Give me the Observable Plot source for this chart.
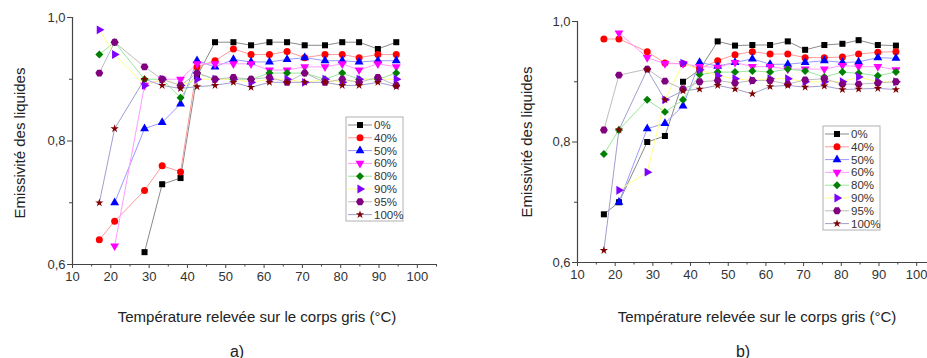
<!DOCTYPE html>
<html><head><meta charset="utf-8">
<script src="https://cdn.jsdelivr.net/npm/d3@7"></script>
<script src="https://cdn.jsdelivr.net/npm/@observablehq/plot@0.6"></script>
<style>
body{margin:0;background:#fff;overflow:hidden;}
#wrap{position:relative;width:927px;height:358px;overflow:hidden;background:#fff;}
.panel{position:absolute;top:0;}
.panel svg{max-width:none !important;}
</style></head>
<body><div id="wrap"><div id="pa" class="panel" style="left:0px;width:460px"></div><div id="pb" class="panel" style="left:500px;width:440px"></div></div>
<script>
// ---- data ----
const series = ["0%", "40%", "50%", "60%", "80%", "90%", "95%", "100%"];
const tempsA = [17, 21, 28.8, 33.4, 38.2, 42.5, 47.2, 52, 56.6, 61.4, 66, 70.6, 75.9, 80.4, 84.8, 89.7, 94.5];
const tempsB = [17, 21, 28.5, 33.2, 38, 42.4, 47.2, 51.8, 56.4, 61.1, 65.8, 70.4, 75.5, 80.3, 84.6, 89.7, 94.5];

const a0   = [null, null, 0.62, 0.73, 0.74, 0.905, 0.96, 0.96, 0.955, 0.96, 0.96, 0.955, 0.955, 0.96, 0.96, 0.949, 0.96];
const a40  = [0.64, 0.67, 0.72, 0.76, 0.75, 0.92, 0.93, 0.949, 0.94, 0.94, 0.945, 0.935, 0.94, 0.94, 0.935, 0.94, 0.94];
const a50  = [null, 0.70, 0.82, 0.83, 0.86, 0.93, 0.92, 0.932, 0.928, 0.928, 0.932, 0.935, 0.93, 0.93, 0.928, 0.93, 0.93];
const a60  = [null, 0.63, 0.89, 0.90, 0.90, 0.925, 0.925, 0.925, 0.925, 0.915, 0.915, 0.92, 0.92, 0.925, 0.915, 0.925, 0.92];
const a80  = [0.94, 0.96, 0.90, 0.90, 0.87, 0.91, 0.90, 0.90, 0.90, 0.91, 0.91, 0.91, 0.90, 0.91, 0.90, 0.90, 0.91];
const a90  = [0.98, 0.94, 0.89, 0.90, 0.89, 0.90, 0.90, 0.90, 0.895, 0.90, 0.90, 0.895, 0.90, 0.895, 0.90, 0.90, 0.90];
const a95  = [0.91, 0.96, 0.92, 0.90, 0.89, 0.91, 0.90, 0.903, 0.90, 0.903, 0.895, 0.91, 0.895, 0.90, 0.895, 0.903, 0.89];
const a100 = [0.70, 0.82, 0.90, 0.89, 0.885, 0.888, 0.89, 0.895, 0.887, 0.895, 0.895, 0.895, 0.895, 0.89, 0.89, 0.895, 0.888];

const b0   = [0.68, 0.70, 0.80, 0.81, 0.90, 0.92, 0.967, 0.96, 0.961, 0.961, 0.967, 0.953, 0.961, 0.963, 0.969, 0.961, 0.96];
const b40  = [0.971, 0.971, 0.95, 0.931, 0.93, 0.922, 0.935, 0.945, 0.95, 0.946, 0.946, 0.94, 0.94, 0.941, 0.946, 0.949, 0.95];
const b50  = [null, 0.70, 0.822, 0.831, 0.86, 0.932, 0.926, 0.932, 0.938, 0.929, 0.929, 0.932, 0.935, 0.932, 0.933, 0.94, 0.939];
const b60  = [null, 0.981, 0.94, 0.93, 0.93, 0.925, 0.924, 0.932, 0.925, 0.925, 0.921, 0.921, 0.921, 0.927, 0.925, 0.925, 0.92];
const b80  = [0.78, 0.82, 0.87, 0.85, 0.87, 0.912, 0.916, 0.916, 0.918, 0.916, 0.921, 0.918, 0.908, 0.916, 0.914, 0.91, 0.916];
const b90  = [null, 0.72, 0.75, 0.87, 0.931, 0.92, 0.91, 0.905, 0.902, 0.905, 0.905, 0.90, 0.90, 0.90, 0.908, 0.90, 0.90];
const b95  = [0.82, 0.911, 0.921, 0.901, 0.888, 0.90, 0.902, 0.898, 0.902, 0.902, 0.896, 0.903, 0.905, 0.896, 0.896, 0.898, 0.90];
const b100 = [0.62, 0.82, 0.92, 0.87, 0.885, 0.888, 0.894, 0.888, 0.88, 0.892, 0.894, 0.891, 0.893, 0.887, 0.888, 0.889, 0.887];

const xTicks = [10, 20, 30, 40, 50, 60, 70, 80, 90, 100];
const xMinor = [15, 25, 35, 45, 55, 65, 75, 85, 95, 105];
const yTicks = [0.6, 0.8, 1.0];
const yTickLabels = ["0,6", "0,8", "1,0"];
const yMinor = [0.7, 0.9];

// ---- styles ----
const markColors = ["#000000", "#ff0000", "#0000ff", "#ff00ff", "#008000", "#8000ff", "#800080", "#800000"];
const lineColors = ["#8a8a8a", "#ff9a9a", "#9a9aff", "#ff9aff", "#9ae69a", "#ffff88", "#bdbdbd", "#a0a0cc"];
const triDown = {draw(ctx, size){const h=Math.sqrt(size/(3*Math.sqrt(3))), s=Math.sqrt(3)*h; ctx.moveTo(0,2*h); ctx.lineTo(s,-h); ctx.lineTo(-s,-h); ctx.closePath();}};
const triRight = {draw(ctx, size){const h=Math.sqrt(size/(3*Math.sqrt(3))), s=Math.sqrt(3)*h; ctx.moveTo(2*h,0); ctx.lineTo(-h,s); ctx.lineTo(-h,-s); ctx.closePath();}};
const hexagon = {draw(ctx, size){const r=Math.sqrt(size/(1.5*Math.sqrt(3))); for(let k=0;k<6;k++){const a=Math.PI/3*k; const px=r*Math.cos(a), py=r*Math.sin(a); k?ctx.lineTo(px,py):ctx.moveTo(px,py);} ctx.closePath();}};
const symbols = [d3.symbolSquare, d3.symbolCircle, d3.symbolTriangle, triDown, d3.symbolDiamond2, triRight, hexagon, d3.symbolStar];
const sizes = [3.4, 3.5, 3.3, 3.3, 3.6, 3.3, 3.6, 2.6];
const FONT = "Liberation Sans, Arial, Helvetica, sans-serif";

function rowsFor(temps, arrays){
  const rows = [];
  arrays.forEach((arr, si) => arr.forEach((v, i) => { if (v != null) rows.push({series: series[si], x: temps[i], y: v}); }));
  return rows;
}

function panel(el, temps, arrays, cfg){
  const rows = rowsFor(temps, arrays);
  const marks = [];
  series.forEach((s, si) => marks.push(Plot.line(rows.filter(d => d.series === s), {x: "x", y: "y", stroke: lineColors[si], strokeWidth: 1})));
  series.forEach((s, si) => marks.push(Plot.dot(rows.filter(d => d.series === s), {x: "x", y: "y", symbol: symbols[si], fill: markColors[si], stroke: "none", r: sizes[si]})));
  const chart = Plot.plot({
    width: cfg.width, height: 358,
    marginLeft: cfg.ml, marginRight: cfg.mr, marginTop: cfg.mt, marginBottom: cfg.mb,
    style: {fontFamily: FONT, fontSize: "13px", color: "#333", background: "transparent", overflow: "visible", maxWidth: "none"},
    x: {domain: [10, 105]},
    y: {domain: [0.6, 1.0]},
    marks: [
      ...marks,
      Plot.ruleX([10], {stroke: "#444", strokeWidth: 1.2}),
      Plot.ruleY([0.6], {stroke: "#444", strokeWidth: 1.2}),
      Plot.axisX(xTicks, {tickSize: 4, tickPadding: 3, label: null, stroke: "#444", fill: "#333"}),
      Plot.axisX(xMinor, {tickSize: 2.5, tickFormat: () => "", label: null, stroke: "#444"}),
      Plot.axisY(yTicks, {tickSize: 5, tickPadding: 2, tickFormat: d => yTickLabels[yTicks.indexOf(d)], label: null, stroke: "#444", fill: "#333"}),
      Plot.axisY(yMinor, {tickSize: 3, tickFormat: () => "", label: null, stroke: "#444"})
    ]
  });
  const svg = d3.select(chart);
  svg.append("text").attr("transform", `translate(${cfg.ytx},${cfg.yty}) rotate(-90)`).attr("text-anchor", "middle").attr("dominant-baseline", "central")
    .style("font-family", FONT).style("font-size", "15px").attr("fill", "#222").text("Emissivité des liquides");
  svg.append("text").attr("x", cfg.xtx).attr("y", 316).attr("text-anchor", "middle").attr("dominant-baseline", "central")
    .style("font-family", FONT).style("font-size", "15px").attr("fill", "#222").text("Température relevée sur le corps gris (°C)");
  svg.append("text").attr("x", cfg.tagx).attr("y", 351).attr("text-anchor", "middle").attr("dominant-baseline", "central")
    .style("font-family", FONT).style("font-size", "16px").attr("fill", "#222").text(cfg.tag);
  // legend
  const g = svg.append("g").attr("transform", `translate(${cfg.lx},${cfg.ly})`).attr("text-anchor", "start");
  g.append("rect").attr("x", 0).attr("y", 0).attr("width", 57).attr("height", 104).attr("fill", "white").attr("stroke", "#b0b0b0");
  series.forEach((s, si) => {
    const yy = 8 + si * 12.8;
    g.append("line").attr("x1", 2).attr("x2", 26).attr("y1", yy).attr("y2", yy).attr("stroke", lineColors[si]);
    g.append("path").attr("transform", `translate(14,${yy})`).attr("d", d3.symbol(symbols[si], Math.PI * sizes[si] * sizes[si])()).attr("fill", markColors[si]);
    g.append("text").attr("x", 28).attr("y", yy).attr("text-anchor", "start").attr("dominant-baseline", "central").style("font-family", FONT).style("font-size", "11.5px").attr("fill", "#333").text(s);
  });
  el.appendChild(chart);
}

panel(document.getElementById("pa"), tempsA, [a0, a40, a50, a60, a80, a90, a95, a100],
  {width: 460, ml: 72, mr: 24, mt: 17, mb: 94, ytx: 19, yty: 143, xtx: 257, tagx: 237, tag: "a)", lx: 346, ly: 117});
panel(document.getElementById("pb"), tempsB, [b0, b40, b50, b60, b80, b90, b95, b100],
  {width: 440, ml: 77, mr: 5, mt: 21, mb: 96, ytx: 26, yty: 142, xtx: 257, tagx: 243, tag: "b)", lx: 323, ly: 126});
</script></body></html>
